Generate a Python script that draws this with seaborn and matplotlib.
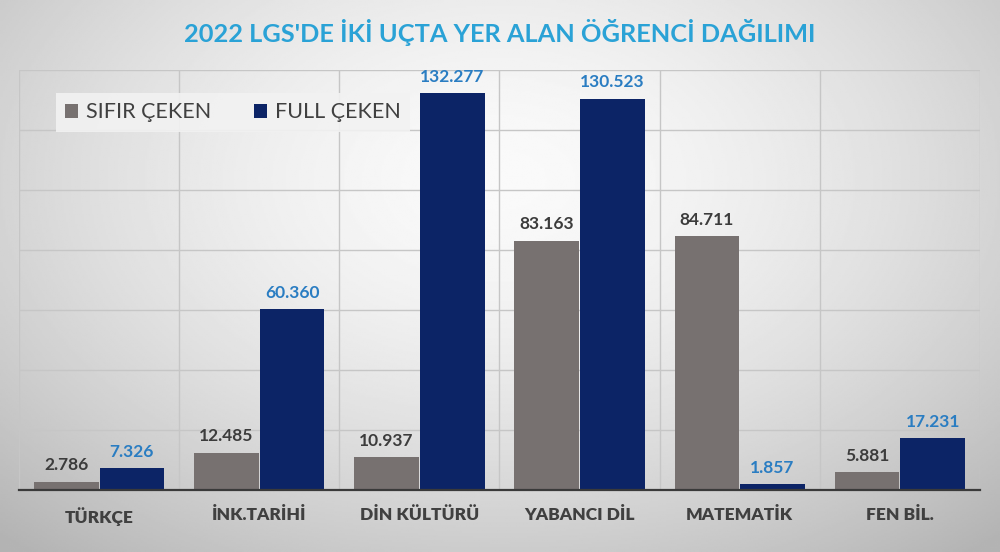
import numpy as np
import pandas as pd
import matplotlib
matplotlib.use("Agg")
import matplotlib.pyplot as plt
import seaborn as sns

categories = ["TÜRKÇE", "İNK.TARİHİ", "DİN KÜLTÜRÜ", "YABANCI DİL", "MATEMATİK", "FEN BİL."]
sifir_ceken = [2786, 12485, 10937, 83163, 84711, 5881]
full_ceken = [7326, 60360, 132277, 130523, 1857, 17231]
series_names = ["SIFIR ÇEKEN", "FULL ÇEKEN"]
title = "2022 LGS'DE İKİ UÇTA YER ALAN ÖĞRENCİ DAĞILIMI"

df = pd.DataFrame({
    "ders": categories * 2,
    "seri": [series_names[0]] * len(categories) + [series_names[1]] * len(categories),
    "deger": sifir_ceken + full_ceken,
})

sns.set_theme(style="white")
plt.rcParams["font.family"] = ["Lato", "DejaVu Sans"]

fig = plt.figure(figsize=(10, 5.52), dpi=100)

# background gradient
bg = fig.add_axes([0, 0, 1, 1], zorder=-10)
yy, xx = np.mgrid[-1:1:300j, -1:1:540j]
r = np.sqrt((xx / 1.05) ** 2 + ((yy + 0.35) / 1.25) ** 2)
val = 0.98 - 0.16 * np.clip(r, 0, 1.4) ** 1.6
bg.imshow(val, cmap="gray", vmin=0, vmax=1, aspect="auto", extent=[0, 1, 0, 1])
bg.set_axis_off()

ax = fig.add_axes([0.019, 0.1123, 0.961, 0.7607])
ax.set_facecolor("none")

palette = {series_names[0]: "#777170", series_names[1]: "#0c2466"}
sns.barplot(data=df, x="ders", y="deger", hue="seri", palette=palette,
            width=0.82, gap=0.015, ax=ax, saturation=1, zorder=3,
            linewidth=0, edgecolor="none")

ax.set_ylim(0, 140000)
ax.set_xlim(-0.5, len(categories) - 0.5)
ax.set_yticks(np.arange(0, 140001, 20000))
ax.set_xticks(np.arange(-0.5, len(categories), 1), minor=True)
ax.grid(axis="y", color="#c6c6c6", linewidth=1, zorder=0)
ax.grid(axis="x", which="minor", color="#c6c6c6", linewidth=1, zorder=0)
ax.grid(axis="x", which="major", visible=False)
ax.tick_params(axis="y", left=False, labelleft=False)
ax.tick_params(axis="x", which="both", bottom=False, length=0, pad=12)
for lbl in ax.get_xticklabels():
    lbl.set_fontweight("heavy")
    lbl.set_color("#404040")
    lbl.set_fontsize(12.5)
for s in ["top", "right", "left"]:
    ax.spines[s].set_visible(False)
ax.spines["bottom"].set_color("#3a3a3a")
ax.spines["bottom"].set_linewidth(1.6)
ax.spines["bottom"].set_zorder(5)
ax.set_xlabel("")
ax.set_ylabel("")

def fmt(v):
    return f"{int(v):,}".replace(",", ".")

label_colors = ["#3c3c3c", "#2a7dc2"]
for cont, col in zip(ax.containers, label_colors):
    ax.bar_label(cont, labels=[fmt(b.get_height()) for b in cont], padding=6,
                 color=col, fontsize=12.5, fontweight="bold")

leg = ax.legend(loc="upper left", bbox_to_anchor=(0.027, 0.972), ncol=2,
                frameon=True, fontsize=15.5, handlelength=0.6, handleheight=0.6,
                handletextpad=0.35, columnspacing=2.0, borderpad=0.45,
                fancybox=False)
leg.get_frame().set_facecolor("#f2f2f2")
leg.get_frame().set_edgecolor("none")
leg.get_frame().set_alpha(0.9)
for t in leg.get_texts():
    t.set_color("#404040")

fig.text(0.5, 0.942, title, ha="center", va="center", fontsize=18.3,
         fontweight="bold", color="#2aa2d6")

fig.savefig("out.png", dpi=100)
